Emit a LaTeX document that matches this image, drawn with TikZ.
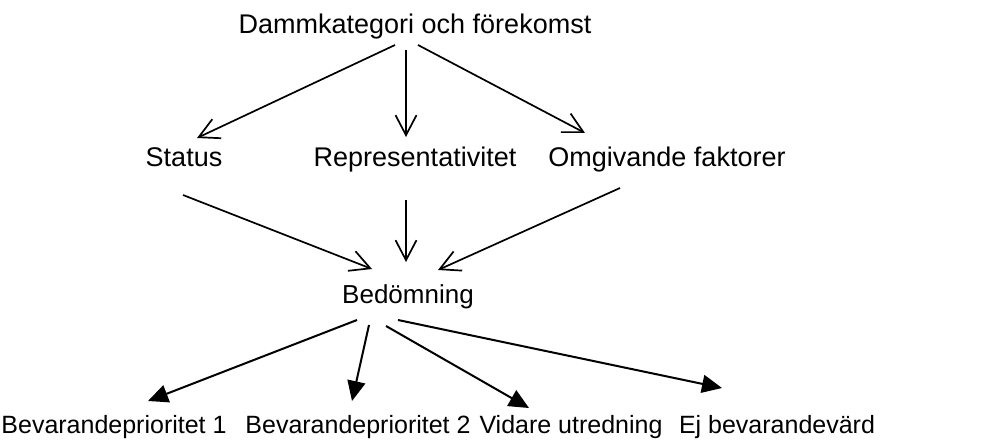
\documentclass[tikz,border=0pt]{standalone}
\usepackage{fontspec}
\setmainfont{Liberation Sans}
\usetikzlibrary{arrows.meta}
\begin{document}
\begin{tikzpicture}[x=0.5pt,y=-0.5pt,
  lbl/.style={inner sep=0pt,anchor=base,font=\fontsize{13.5}{16}\selectfont},
  lblb/.style={inner sep=0pt,anchor=base,font=\fontsize{12.5}{15}\selectfont},
  openarr/.style={line width=0.85pt,-{Straight Barb[length=10pt,width=10.5pt,line width=0.85pt]}},
  fillarr/.style={line width=1pt,-{Triangle[length=10pt,width=9pt]}}]
\useasboundingbox (0,0) rectangle (1000,443);
\node[lbl] (top) at (415,34) {Dammkategori och förekomst};
\node[lbl] (status) at (184,167) {Status};
\node[lbl] (repr) at (415,167) {Representativitet};
\node[lbl] (omg) at (667,167) {Omgivande faktorer};
\node[lbl,font=\fontsize{13}{15}\selectfont] (bed) at (408,303) {Bedömning};
\node[lblb] (b1) at (114,433) {Bevarandeprioritet 1};
\node[lblb] (b2) at (358,433) {Bevarandeprioritet 2};
\node[lblb] (vid) at (571,433) {Vidare utredning};
\node[lblb] (ej) at (777,433) {Ej bevarandevärd};
% connector ends
\coordinate (t1) at (395,45); \coordinate (t1e) at (197,138);
\coordinate (t2) at (406,50); \coordinate (t2e) at (406,137);
\coordinate (t3) at (418,45); \coordinate (t3e) at (585,133);
\coordinate (m1) at (183,195); \coordinate (m1e) at (372,269);
\coordinate (m2) at (406,200); \coordinate (m2e) at (406,262);
\coordinate (m3) at (620,188); \coordinate (m3e) at (438,270);
\coordinate (d1) at (357,320); \coordinate (d1e) at (148,401);
\coordinate (d2) at (369,325); \coordinate (d2e) at (352,401);
\coordinate (d3) at (386,326); \coordinate (d3e) at (529,408);
\coordinate (d4) at (398,320); \coordinate (d4e) at (722,388);
\draw[openarr] (t1) -- (t1e);
\draw[openarr] (t2) -- (t2e);
\draw[openarr] (t3) -- (t3e);
\draw[openarr] (m1) -- (m1e);
\draw[openarr] (m2) -- (m2e);
\draw[openarr] (m3) -- (m3e);
\draw[fillarr] (d1) -- (d1e);
\draw[fillarr] (d2) -- (d2e);
\draw[fillarr] (d3) -- (d3e);
\draw[fillarr] (d4) -- (d4e);
\end{tikzpicture}
\end{document}
